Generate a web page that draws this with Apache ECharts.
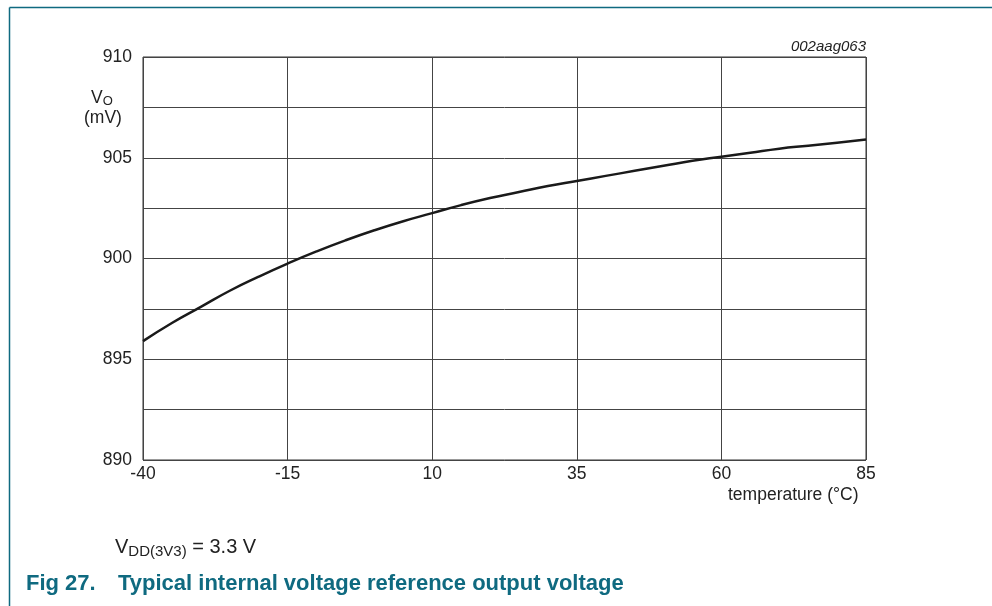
<!DOCTYPE html>
<html><head><meta charset="utf-8">
<script src="https://cdn.jsdelivr.net/npm/echarts@6/dist/echarts.min.js"></script>
<style>html,body{margin:0;padding:0;background:#fff}#c{width:992px;height:606px}</style>
</head><body><div id="c"></div>
<script>
const temperatures = [-40,-35,-30,-25,-20,-15,-10,-5,0,5,10,15,20,25,30,35,40,45,50,55,60,65,70,75,80,85];
const voltages = [895.9,896.8,897.6,898.4,899.1,899.75,900.35,900.9,901.4,901.85,902.25,902.65,903.0,903.3,903.6,903.85,904.1,904.35,904.6,904.85,905.05,905.25,905.45,905.6,905.75,905.9];
const xTicks = [-40,-15,10,35,60,85];
const yTicks = [890,895,900,905,910];

const chart = echarts.init(document.getElementById('c'), null, {renderer:'canvas'});
const F = 'Liberation Sans, Arial, sans-serif';
const teal = '#0f6a80';
const ink = '#222';
chart.setOption({
  animation:false,
  grid:{left:143, top:57, width:723, height:403, show:true, borderColor:'#333', borderWidth:1},
  xAxis:{type:'value', min:-40, max:85, interval:25,
    axisLine:{show:false}, axisTick:{show:false},
    splitLine:{show:true, lineStyle:{color:'#444', width:1}},
    axisLabel:{color:ink, fontFamily:F, fontSize:17.5, margin:5,
      formatter:v=> xTicks.includes(v)? String(v):''}},
  yAxis:{type:'value', min:890, max:910, interval:2.5,
    axisLine:{show:false}, axisTick:{show:false},
    splitLine:{show:true, lineStyle:{color:'#444', width:1}},
    axisLabel:{color:ink, fontFamily:F, fontSize:17.5, margin:11,
      formatter:v=> yTicks.includes(v)? String(v):''}},
  series:[{type:'line', data: temperatures.map((t,i)=>[t, voltages[i]]),
    smooth:true, symbol:'none', lineStyle:{color:'#1a1a1a', width:2.5}}],
  graphic:[
    {type:'line', shape:{x1:9.5,y1:7.5,x2:992,y2:7.5}, style:{stroke:teal, lineWidth:1.5}},
    {type:'line', shape:{x1:9.5,y1:7.5,x2:9.5,y2:606}, style:{stroke:teal, lineWidth:1.5}},
    {type:'text', right:126, top:39, style:{text:'002aag063', font:'italic 15px '+F, fill:ink}},
    {type:'text', left:91, top:89, style:{text:'{a|V}{b|O}', rich:{a:{font:'17.5px '+F, fill:ink}, b:{font:'13px '+F, fill:ink, padding:[7,0,0,0]}}}},
    {type:'text', left:84, top:109, style:{text:'(mV)', font:'17.5px '+F, fill:ink}},
    {type:'text', left:728, top:486, style:{text:'temperature (°C)', font:'17.5px '+F, fill:ink}},
    {type:'text', left:115, top:537, style:{text:'{a|V}{b|DD(3V3)}{a| = 3.3 V}', rich:{a:{font:'20px '+F, fill:ink}, b:{font:'15px '+F, fill:ink, padding:[9,0,0,0]}}}},
    {type:'text', left:26, top:573, style:{text:'Fig 27.', font:'bold 22px '+F, fill:teal}},
    {type:'text', left:118, top:573, style:{text:'Typical internal voltage reference output voltage', font:'bold 22px '+F, fill:teal}}
  ]
});
</script></body></html>
